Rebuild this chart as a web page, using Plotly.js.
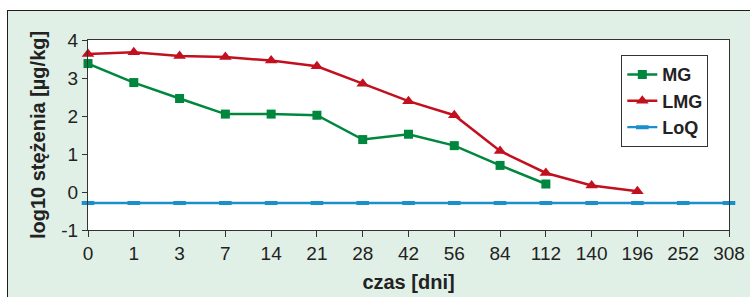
<!DOCTYPE html>
<html>
<head>
<meta charset="utf-8">
<script src="https://cdn.plot.ly/plotly-3.0.1.min.js"></script>
<style>
  html, body { margin: 0; padding: 0; background: #ffffff; width: 750px; height: 297px; overflow: hidden; }
  #frame { position: absolute; left: 7px; top: 10px; width: 800px; height: 400px;
           background: #e1f0e6; border-left: 1px solid #1e1e1e; border-top: 1px solid #1e1e1e; }
  #chart { position: absolute; left: 0; top: 0; width: 750px; height: 297px; }
</style>
</head>
<body>
<div id="frame"></div>
<div id="chart"></div>
<script>
const days = ["0","1","3","7","14","21","28","42","56","84","112","140","196","252","308"];
const mgDays = ["0","1","3","7","14","21","28","42","56","84","112"];
const mgValues = [3.38, 2.88, 2.46, 2.05, 2.05, 2.02, 1.38, 1.52, 1.22, 0.70, 0.21];
const lmgDays = ["0","1","3","7","14","21","28","42","56","84","112","140","196"];
const lmgValues = [3.63, 3.68, 3.58, 3.55, 3.46, 3.31, 2.85, 2.39, 2.02, 1.08, 0.50, 0.17, 0.02];
const loqValue = -0.29;
const loqValues = days.map(() => loqValue);
const yTicks = [-1, 0, 1, 2, 3, 4];
const yTickLabels = ["-1", "0", "1", "2", "3", "4"];

const font = "Liberation Sans, Arial, sans-serif";

const traces = [
  { x: mgDays, y: mgValues, name: "MG", type: "scatter", mode: "lines+markers", cliponaxis: false,
    line: { color: "#00873e", width: 2.5 },
    marker: { symbol: "square", size: 9, color: "#00873e" } },
  { x: lmgDays, y: lmgValues, name: "LMG", type: "scatter", mode: "lines+markers", cliponaxis: false,
    line: { color: "#c2101f", width: 2.5 },
    marker: { symbol: "triangle-up", size: 11, color: "#c2101f" } },
  { x: days, y: loqValues, name: "LoQ", type: "scatter", mode: "lines+markers", cliponaxis: false,
    line: { color: "#1b8fcb", width: 2.3 },
    marker: { symbol: "line-ew", size: 9, color: "#1b8fcb", line: { color: "#1b8fcb", width: 4 } } }
];

const layout = {
  width: 750, height: 297,
  margin: { l: 88, r: 21, t: 40, b: 67, pad: 0 },
  paper_bgcolor: "rgba(0,0,0,0)",
  plot_bgcolor: "#ffffff",
  font: { family: font, color: "#222222", size: 18 },
  showlegend: true,
  legend: {
    x: 0.832, y: 0.92, xanchor: "left", yanchor: "top",
    bgcolor: "#ffffff", bordercolor: "#333333", borderwidth: 1,
    font: { family: font, size: 18, color: "#222222", weight: "bold" },
    tracegroupgap: 0
  },
  xaxis: {
    type: "category", categoryorder: "array", categoryarray: days,
    range: [0, days.length - 1],
    showline: true, linecolor: "#333333", linewidth: 1, mirror: true,
    showgrid: false, zeroline: false,
    ticks: "outside", ticklen: 6, tickcolor: "#333333",
    tickfont: { family: font, size: 19, color: "#222222" },
    title: { text: "czas [dni]", font: { family: font, size: 20, color: "#222222", weight: "bold" }, standoff: 12 }
  },
  yaxis: {
    range: [-1, 4], tickvals: yTicks, ticktext: yTickLabels,
    showline: true, linecolor: "#333333", linewidth: 1, mirror: true,
    showgrid: false, zeroline: false,
    ticks: "outside", ticklen: 5, tickcolor: "#333333",
    tickfont: { family: font, size: 19, color: "#222222" },
    title: { text: "log10 stężenia [µg/kg]", font: { family: font, size: 20, color: "#222222", weight: "bold" }, standoff: 10 }
  }
};

Plotly.newPlot("chart", traces, layout, { displayModeBar: false, staticPlot: true });
</script>
</body>
</html>
